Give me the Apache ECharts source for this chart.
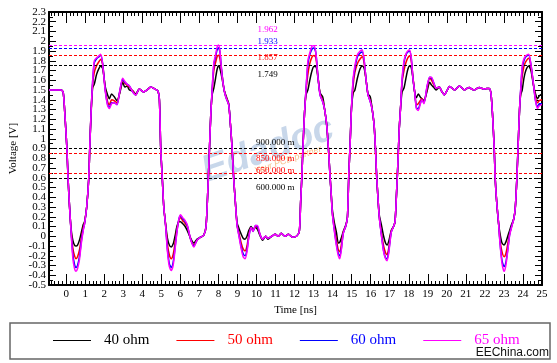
<!DOCTYPE html>
<html><head><meta charset="utf-8">
<script src="https://cdn.jsdelivr.net/npm/echarts@6/dist/echarts.min.js"></script>
<style>html,body{margin:0;padding:0;background:#fff}#c{width:557px;height:363px}</style>
</head><body><div id="c"></div>
<script>
// ---------- DATA ----------
const timeNs = [
 -0.9, -0.25, -0.15, -0.05, 0.04, 0.1, 0.18, 0.26, 0.35, 0.44,
 0.52, 0.6, 0.7, 0.8, 0.9, 0.97, 1.08, 1.19, 1.24, 1.31,
 1.39, 1.48, 1.6, 1.72, 1.82, 1.92, 2.06, 2.18, 2.27, 2.39,
 2.53, 2.67, 2.82, 2.97, 3.08, 3.2, 3.33, 3.5, 3.66, 3.84,
 4.07, 4.25, 4.45, 4.65, 4.82, 4.9, 4.97, 5.05, 5.13, 5.23,
 5.32, 5.42, 5.52, 5.62, 5.72, 5.82, 5.93, 6.01, 6.12, 6.22,
 6.36, 6.54, 6.71, 6.88, 7.06, 7.23, 7.35, 7.45, 7.53, 7.6,
 7.67, 7.76, 7.85, 7.93, 8.0, 8.08, 8.19, 8.3, 8.4, 8.54,
 8.63, 8.72, 8.8, 8.88, 8.98, 9.08, 9.2, 9.3, 9.4, 9.5,
 9.6, 9.72, 9.82, 9.95, 10.05, 10.2, 10.32, 10.48, 10.6, 10.8,
 10.98, 11.15, 11.3, 11.5, 11.68, 11.9, 12.1, 12.25, 12.32, 12.38,
 12.44, 12.52, 12.6, 12.7, 12.8, 12.92, 13.02, 13.12, 13.22, 13.34,
 13.48, 13.58, 13.69, 13.78, 13.86, 13.93, 13.98, 14.08, 14.2, 14.3,
 14.38, 14.47, 14.56, 14.7, 14.78, 14.85, 14.92, 14.99, 15.08, 15.17,
 15.3, 15.45, 15.56, 15.66, 15.76, 15.86, 15.98, 16.08, 16.18, 16.25,
 16.31, 16.38, 16.45, 16.56, 16.68, 16.78, 16.86, 16.95, 17.08, 17.2,
 17.28, 17.36, 17.43, 17.5, 17.57, 17.65, 17.75, 17.85, 17.95, 18.04,
 18.13, 18.22, 18.31, 18.4, 18.5, 18.6, 18.69, 18.8, 18.95, 19.1,
 19.2, 19.3, 19.44, 19.6, 19.75, 19.87, 20.0, 20.14, 20.27, 20.4,
 20.53, 20.66, 20.8, 20.92, 21.05, 21.18, 21.3, 21.44, 21.58, 21.71,
 21.85, 21.97, 22.1, 22.23, 22.32, 22.4, 22.49, 22.54, 22.62, 22.72,
 22.8, 22.9, 23.01, 23.1, 23.2, 23.3, 23.4, 23.52, 23.6, 23.68,
 23.75, 23.82, 23.88, 23.96, 24.05, 24.15, 24.3, 24.42, 24.55, 24.66,
 24.76, 24.86, 25.0
];
const ohm40 = [
 1.5, 1.5, 1.47, 1.2, 0.9, 0.6, 0.3, 0.08, -0.04, -0.09,
 -0.1, -0.09, -0.04, 0.04, 0.12, 0.15, 0.3, 0.6, 0.9, 1.25,
 1.52, 1.56, 1.66, 1.72, 1.745, 1.72, 1.53, 1.45, 1.41, 1.46,
 1.43, 1.39, 1.47, 1.58, 1.53, 1.54, 1.5, 1.49, 1.46, 1.51,
 1.48, 1.5, 1.53, 1.51, 1.49, 1.4, 0.9, 0.6, 0.3, 0.12,
 -0.02, -0.09, -0.11, -0.08, 0.0, 0.1, 0.15, 0.15, 0.13, 0.11,
 0.06, -0.02, -0.07, -0.03, -0.01, 0.01, 0.1, 0.5, 0.9, 1.25,
 1.45, 1.52, 1.62, 1.71, 1.749, 1.72, 1.62, 1.5, 1.44, 1.36,
 1.15, 0.9, 0.6, 0.38, 0.14, 0.08, 0.02, -0.02, -0.03, 0.0,
 0.06, 0.1, 0.07, 0.09, 0.07, 0.0, -0.04, 0.0, -0.03, 0.0,
 0.02, 0.0, 0.03, 0.0, 0.02, -0.01, 0.0, 0.05, 0.35, 0.6,
 0.9, 1.25, 1.45, 1.5, 1.6, 1.7, 1.74, 1.74, 1.64, 1.47,
 1.43, 1.3, 1.14, 0.9, 0.63, 0.42, 0.28, 0.15, 0.04, -0.07,
 -0.06, -0.01, 0.05, 0.12, 0.2, 0.63, 0.95, 1.31, 1.47, 1.5,
 1.62, 1.72, 1.745, 1.72, 1.6, 1.46, 1.43, 1.3, 1.14, 0.9,
 0.63, 0.4, 0.22, 0.12, 0.0, -0.07, -0.09, -0.05, 0.06, 0.1,
 0.15, 0.45, 0.75, 1.1, 1.32, 1.48, 1.52, 1.62, 1.71, 1.745,
 1.73, 1.62, 1.48, 1.42, 1.46, 1.43, 1.41, 1.39, 1.48, 1.58,
 1.55, 1.53, 1.5, 1.53, 1.48, 1.45, 1.49, 1.535, 1.52, 1.5,
 1.52, 1.54, 1.52, 1.5, 1.515, 1.525, 1.51, 1.5, 1.515, 1.525,
 1.515, 1.51, 1.515, 1.515, 1.46, 1.25, 0.9, 0.6, 0.35, 0.13,
 0.02, -0.07, -0.09, -0.06, 0.0, 0.06, 0.12, 0.18, 0.3, 0.6,
 0.95, 1.3, 1.45, 1.5, 1.62, 1.7, 1.745, 1.7, 1.55, 1.46,
 1.41, 1.44, 1.46
];
const ohm50 = [
 1.5, 1.5, 1.47, 1.2, 0.9, 0.6, 0.3, 0.06, -0.12, -0.2,
 -0.23, -0.21, -0.14, -0.02, 0.09, 0.14, 0.3, 0.6, 0.9, 1.27,
 1.55, 1.68, 1.75, 1.79, 1.815, 1.76, 1.5, 1.38, 1.35, 1.4,
 1.39, 1.37, 1.48, 1.6, 1.57, 1.55, 1.53, 1.49, 1.45, 1.51,
 1.48, 1.5, 1.53, 1.51, 1.49, 1.4, 0.9, 0.6, 0.3, 0.11,
 -0.08, -0.19, -0.23, -0.19, -0.07, 0.07, 0.17, 0.19, 0.16, 0.14,
 0.1, -0.03, -0.09, -0.04, -0.01, 0.01, 0.1, 0.5, 0.9, 1.25,
 1.48, 1.7, 1.78, 1.84, 1.857, 1.82, 1.66, 1.5, 1.43, 1.35,
 1.15, 0.9, 0.6, 0.38, 0.12, 0.03, -0.07, -0.13, -0.15, -0.1,
 0.02, 0.09, 0.06, 0.1, 0.09, 0.01, -0.03, 0.0, -0.02, 0.0,
 0.02, 0.0, 0.03, 0.0, 0.02, -0.01, 0.0, 0.05, 0.35, 0.6,
 0.9, 1.25, 1.48, 1.66, 1.77, 1.84, 1.855, 1.83, 1.66, 1.46,
 1.39, 1.3, 1.14, 0.9, 0.63, 0.42, 0.25, 0.1, -0.04, -0.14,
 -0.16, -0.07, 0.04, 0.11, 0.2, 0.63, 0.95, 1.31, 1.55, 1.68,
 1.77, 1.82, 1.84, 1.77, 1.6, 1.45, 1.39, 1.3, 1.14, 0.9,
 0.63, 0.4, 0.2, 0.04, -0.1, -0.17, -0.19, -0.12, 0.05, 0.1,
 0.15, 0.45, 0.75, 1.1, 1.32, 1.58, 1.7, 1.78, 1.83, 1.85,
 1.8, 1.63, 1.48, 1.35, 1.36, 1.39, 1.41, 1.38, 1.5, 1.62,
 1.6, 1.56, 1.52, 1.53, 1.48, 1.45, 1.49, 1.535, 1.52, 1.5,
 1.52, 1.54, 1.52, 1.5, 1.515, 1.525, 1.51, 1.5, 1.515, 1.525,
 1.515, 1.51, 1.515, 1.515, 1.46, 1.25, 0.9, 0.6, 0.35, 0.13,
 -0.05, -0.16, -0.21, -0.18, -0.08, 0.03, 0.1, 0.18, 0.3, 0.6,
 0.95, 1.3, 1.48, 1.64, 1.74, 1.79, 1.825, 1.74, 1.56, 1.42,
 1.37, 1.39, 1.4
];
const ohm60 = [
 1.5, 1.5, 1.47, 1.2, 0.9, 0.6, 0.3, 0.05, -0.18, -0.29,
 -0.32, -0.3, -0.21, -0.05, 0.07, 0.13, 0.3, 0.6, 0.9, 1.27,
 1.58, 1.78, 1.82, 1.84, 1.855, 1.77, 1.49, 1.35, 1.32, 1.37,
 1.37, 1.35, 1.49, 1.61, 1.58, 1.56, 1.54, 1.48, 1.45, 1.51,
 1.48, 1.5, 1.53, 1.51, 1.49, 1.4, 0.9, 0.6, 0.3, 0.1,
 -0.13, -0.28, -0.32, -0.27, -0.12, 0.05, 0.18, 0.21, 0.18, 0.16,
 0.11, -0.03, -0.1, -0.04, -0.01, 0.01, 0.1, 0.5, 0.9, 1.25,
 1.5, 1.76, 1.84, 1.91, 1.933, 1.89, 1.66, 1.5, 1.42, 1.35,
 1.15, 0.9, 0.6, 0.38, 0.12, 0.01, -0.11, -0.18, -0.2, -0.14,
 0.0, 0.09, 0.05, 0.11, 0.1, 0.01, -0.03, 0.0, -0.02, 0.0,
 0.02, 0.0, 0.03, 0.0, 0.02, -0.01, 0.0, 0.05, 0.35, 0.6,
 0.9, 1.25, 1.5, 1.76, 1.86, 1.92, 1.93, 1.88, 1.66, 1.45,
 1.38, 1.3, 1.14, 0.9, 0.63, 0.42, 0.25, 0.08, -0.08, -0.18,
 -0.2, -0.11, 0.03, 0.11, 0.2, 0.63, 0.95, 1.31, 1.6, 1.72,
 1.84, 1.88, 1.89, 1.8, 1.6, 1.45, 1.38, 1.3, 1.14, 0.9,
 0.63, 0.4, 0.2, 0.02, -0.15, -0.22, -0.23, -0.15, 0.04, 0.1,
 0.15, 0.45, 0.75, 1.1, 1.32, 1.6, 1.78, 1.86, 1.89, 1.9,
 1.83, 1.62, 1.48, 1.32, 1.31, 1.36, 1.4, 1.37, 1.52, 1.63,
 1.62, 1.58, 1.52, 1.53, 1.48, 1.45, 1.49, 1.535, 1.52, 1.5,
 1.52, 1.54, 1.52, 1.5, 1.515, 1.525, 1.51, 1.5, 1.515, 1.525,
 1.515, 1.51, 1.515, 1.515, 1.46, 1.25, 0.9, 0.6, 0.35, 0.13,
 -0.08, -0.25, -0.31, -0.27, -0.14, 0.02, 0.1, 0.18, 0.3, 0.6,
 0.95, 1.3, 1.5, 1.72, 1.8, 1.84, 1.86, 1.76, 1.56, 1.39,
 1.33, 1.36, 1.36
];
const ohm65 = [
 1.5, 1.5, 1.47, 1.2, 0.9, 0.6, 0.3, 0.05, -0.22, -0.33,
 -0.36, -0.33, -0.24, -0.07, 0.06, 0.13, 0.3, 0.6, 0.9, 1.27,
 1.58, 1.8, 1.83, 1.85, 1.866, 1.76, 1.48, 1.34, 1.31, 1.36,
 1.37, 1.35, 1.49, 1.62, 1.59, 1.56, 1.54, 1.48, 1.45, 1.51,
 1.48, 1.5, 1.53, 1.51, 1.49, 1.4, 0.9, 0.6, 0.3, 0.1,
 -0.15, -0.31, -0.35, -0.3, -0.14, 0.04, 0.18, 0.22, 0.19, 0.17,
 0.12, -0.03, -0.11, -0.04, -0.01, 0.01, 0.1, 0.5, 0.9, 1.25,
 1.5, 1.78, 1.86, 1.94, 1.962, 1.9, 1.65, 1.5, 1.42, 1.35,
 1.15, 0.9, 0.6, 0.38, 0.11, 0.0, -0.13, -0.21, -0.23, -0.16,
 -0.01, 0.09, 0.05, 0.11, 0.11, 0.01, -0.03, 0.0, -0.02, 0.0,
 0.02, 0.0, 0.03, 0.0, 0.02, -0.01, 0.0, 0.05, 0.35, 0.6,
 0.9, 1.25, 1.5, 1.8, 1.88, 1.95, 1.955, 1.88, 1.65, 1.45,
 1.38, 1.3, 1.14, 0.9, 0.63, 0.42, 0.25, 0.07, -0.1, -0.2,
 -0.23, -0.12, 0.03, 0.11, 0.2, 0.63, 0.95, 1.31, 1.62, 1.75,
 1.86, 1.9, 1.91, 1.8, 1.6, 1.45, 1.38, 1.3, 1.14, 0.9,
 0.63, 0.4, 0.2, 0.01, -0.16, -0.23, -0.25, -0.17, 0.04, 0.1,
 0.15, 0.45, 0.75, 1.1, 1.32, 1.62, 1.8, 1.87, 1.9, 1.91,
 1.83, 1.62, 1.48, 1.31, 1.29, 1.35, 1.4, 1.36, 1.53, 1.63,
 1.63, 1.58, 1.52, 1.53, 1.48, 1.45, 1.49, 1.535, 1.52, 1.5,
 1.52, 1.54, 1.52, 1.5, 1.515, 1.525, 1.51, 1.5, 1.515, 1.525,
 1.515, 1.51, 1.515, 1.515, 1.46, 1.25, 0.9, 0.6, 0.35, 0.13,
 -0.09, -0.28, -0.36, -0.3, -0.15, 0.01, 0.09, 0.18, 0.3, 0.6,
 0.95, 1.3, 1.5, 1.75, 1.82, 1.85, 1.866, 1.76, 1.56, 1.39,
 1.31, 1.34, 1.35
];
const seriesNames = ['40 ohm', '50 ohm', '60 ohm', '65 ohm'];
const refLevels = [1.962, 1.933, 1.857, 1.749, 0.9, 0.85, 0.65, 0.6];
const refLabels = ['1.962', '1.933', '1.857', '1.749', '900.000 m', '850.000 m', '650.000 m', '600.000 m'];
const refOwner = [3, 2, 1, 0, 0, 1, 1, 0];
const xTickValues = [0,1,2,3,4,5,6,7,8,9,10,11,12,13,14,15,16,17,18,19,20,21,22,23,24,25];
const yTickValues = [2.3,2.2,2.1,2,1.9,1.8,1.7,1.6,1.5,1.4,1.3,1.2,1.1,1,0.9,0.8,0.7,0.6,0.5,0.4,0.3,0.2,0.1,0,-0.1,-0.2,-0.3,-0.4,-0.5];

// ---------- STYLE ----------
const colors = ['#000000', '#ff0000', '#0000ff', '#ff00ff'];
const serif = "'Liberation Serif', 'Times New Roman', serif";
const labelDy = [-15.5, -6, 2, 8.5, -6, 5.5, -2, 9.5];
const labelT = [10.05, 10.05, 10.05, 10.05, 9.98, 9.98, 9.98, 9.98];
const xMinor = [];
for (let i = -4; i <= 124; i++) { if (i % 5 !== 0) xMinor.push(+(i * 0.2).toFixed(2)); }
const yLabelsA = yTickValues.filter((v, i) => i % 2 === 0);
const yLabelsB = yTickValues.filter((v, i) => i % 2 === 1);

const values = [ohm40, ohm50, ohm60, ohm65];
const X_MIN = -0.9, X_MAX = 25;

function xAx(pos, major, showLine, showLabel, extra) {
  return Object.assign({
    type: 'value', min: X_MIN, max: X_MAX, position: pos, offset: 0,
    axisLine: { show: showLine, onZero: false, lineStyle: { color: '#000', width: 2 } },
    axisTick: { show: true, inside: true, length: major ? 11 : 4, customValues: major ? xTickValues : xMinor,
      lineStyle: { color: '#000', width: 1 } },
    axisLabel: showLabel ? { show: true, customValues: xTickValues, margin: 4, color: '#000', fontFamily: serif, fontSize: 11 } : { show: false },
    splitLine: { show: false }
  }, extra || {});
}
function yAx(pos, extra) {
  return Object.assign({
    type: 'value', min: -0.5, max: 2.3, interval: 0.1, position: pos, offset: 0,
    axisLine: { show: true, onZero: false, lineStyle: { color: '#000', width: 2 } },
    axisTick: { show: true, inside: true, length: 7, lineStyle: { color: '#000', width: 1 } },
    minorTick: { show: true, splitNumber: 2, length: 4, lineStyle: { color: '#000', width: 1 } },
    axisLabel: { show: false },
    splitLine: { show: false }, minorSplitLine: { show: false }
  }, extra || {});
}
function yLabelAx(list) {
  return {
    type: 'value', min: -0.5, max: 2.3, position: 'left', offset: 0,
    axisLine: { show: false }, axisTick: { show: false },
    axisLabel: { show: true, customValues: list, margin: 3, color: '#000', fontFamily: serif, fontSize: 11 },
    splitLine: { show: false }
  };
}

const series = values.map((vals, s) => {
  const idx = refLevels.map((v, i) => i).filter(i => refOwner[i] === s);
  return {
    name: seriesNames[s], type: 'line', xAxisIndex: 0, yAxisIndex: 0,
    data: timeNs.map((t, i) => [t, vals[i]]),
    symbol: 'none', showSymbol: false, smooth: 0.25, legendIcon: 'rect',
    lineStyle: { color: colors[s], width: 1.5 }, itemStyle: { color: colors[s] },
    z: 2 + s,
    markLine: {
      silent: true, symbol: 'none', animation: false,
      label: { show: false },
      lineStyle: { color: colors[s], type: [3, 2], width: 1 },
      data: idx.map(i => ({ yAxis: refLevels[i] }))
    },
    markPoint: {
      silent: true, symbol: 'circle', symbolSize: 0, animation: false,
      itemStyle: { color: 'transparent' },
      data: idx.map(i => ({
        coord: [labelT[i], refLevels[i]],
        label: { show: true, formatter: refLabels[i], position: 'right', distance: 0,
          offset: [0, labelDy[i]], color: colors[s], fontFamily: serif, fontSize: 9 }
      }))
    }
  };
});

const chart = echarts.init(document.getElementById('c'), null, { renderer: 'canvas' });
chart.setOption({
  animation: false,
  backgroundColor: '#ffffff',
  grid: { left: 48, right: 15, top: 12, bottom: 78, containLabel: false },
  xAxis: [
    xAx('bottom', true, true, true, { name: 'Time [ns]', nameLocation: 'middle', nameGap: 20,
      nameTextStyle: { color: '#000', fontFamily: serif, fontSize: 11 } }),
    xAx('bottom', false, false, false),
    xAx('top', true, true, false),
    xAx('top', false, false, false)
  ],
  yAxis: [
    yAx('left', { name: 'Voltage [V]', nameLocation: 'middle', nameGap: 30, nameRotate: 90,
      nameTextStyle: { color: '#000', fontFamily: serif, fontSize: 11 } }),
    yAx('right'),
    yLabelAx(yLabelsA),
    yLabelAx(yLabelsB)
  ],
  legend: {
    data: seriesNames.map((n, i) => ({ name: n, icon: 'rect', itemStyle: { color: colors[i] }, textStyle: { color: colors[i] } })),
    left: 53, top: 333, itemWidth: 38, itemHeight: 1, itemGap: 27, padding: 0,
    textStyle: { fontFamily: serif, fontSize: 15, padding: [0, 0, 0, 8] },
    selectedMode: false
  },
  graphic: [
    { type: 'rect', silent: true, shape: { x: 10, y: 323, width: 540, height: 36 },
      style: { fill: 'none', stroke: '#666', lineWidth: 1.5 } },
    { type: 'text', silent: true, x: 549, y: 353,
      style: { text: 'EEChina.com', align: 'right', verticalAlign: 'middle', font: "12px 'Liberation Sans', Arial, sans-serif", fill: '#111' } },
    { type: 'text', silent: true, x: 268, y: 150, rotation: 0.33, z: 0,
      style: { text: 'Edadoc', align: 'center', verticalAlign: 'middle', font: "italic bold 38px 'Liberation Sans', Arial, sans-serif", fill: 'rgba(110,150,200,0.38)' } },
    { type: 'text', silent: true, x: 288, y: 160, rotation: 0.33, z: 0,
      style: { text: 'Your PCB partner', align: 'center', verticalAlign: 'middle', font: "italic 9px 'Liberation Sans', Arial, sans-serif", fill: 'rgba(240,150,60,0.6)' } }
  ],
  series: series
});
</script>
</body></html>
